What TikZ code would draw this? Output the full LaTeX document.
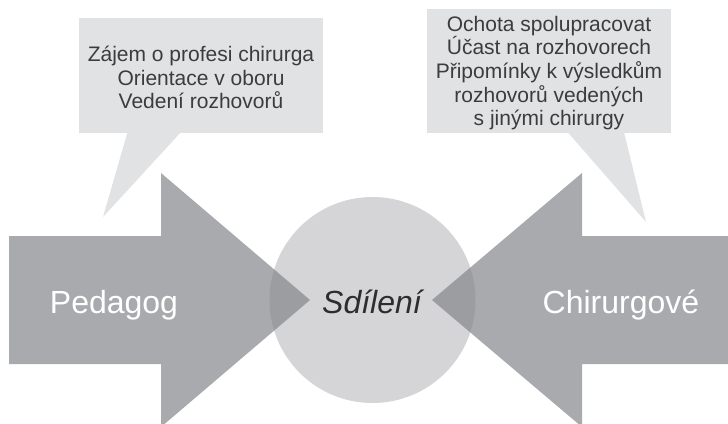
\documentclass[tikz,border=0pt]{standalone}
\usepackage{fontspec}
\setmainfont{Liberation Sans}
\usetikzlibrary{calc}
\definecolor{circlegray}{RGB}{213,213,215}
\definecolor{calloutgray}{RGB}{225,226,227}
\definecolor{arrowgray}{RGB}{130,132,136}
\definecolor{textgray}{RGB}{60,60,60}
\definecolor{hubtext}{RGB}{45,45,45}
\begin{document}
\begin{tikzpicture}[x=1pt,y=-1pt,
  arrowshape/.style={fill=arrowgray, fill opacity=0.69},
  hub/.style={circle, fill=circlegray, minimum size=206pt, inner sep=0pt},
  calloutbox/.style={fill=calloutgray, inner sep=0pt, minimum width=244pt},
  callouttext/.style={text=textgray, align=center,
    font=\fontsize{21}{23.6}\selectfont, inner sep=0pt},
  tail/.style={fill=calloutgray},
  biglabel/.style={font=\fontsize{32}{38}\selectfont, anchor=base}]
\useasboundingbox (0,0) rectangle (728,423);
% central circle
\node[hub] (share) at (372.5,300) {};
% arrows
\fill[arrowshape] (9,236) -- (161,236) -- (161,173) -- (310,300) -- (161,427)
  -- (161,364) -- (9,364) -- cycle;
\fill[arrowshape] (728,236) -- (582,236) -- (582,173) -- (432,300) -- (582,427)
  -- (582,364) -- (728,364) -- cycle;
% labels
\node[biglabel, text=white] (ped) at (114,313) {Pedagog};
\node[biglabel, text=white] (chir) at (621,313) {Chirurgové};
\node[biglabel, text=hubtext, font=\fontsize{32}{38}\selectfont\itshape] (sdil) at (372,313) {Sdílení};
% callouts
\node[calloutbox, minimum height=115pt] (lbox) at (201,75.5) {};
\coordinate (ltip) at (103,217);
\fill[tail] ($(lbox.south west)+(49,-2)$) -- (ltip) -- ($(lbox.south west)+(103,-2)$) -- cycle;
\node[callouttext] (ltext) at ($(lbox.center)+(0,2)$)
  {Zájem o profesi chirurga\\Orientace v oboru\\Vedení rozhovorů};
\node[calloutbox, minimum height=124pt] (rbox) at (549,71) {};
\coordinate (rtip) at (646,222);
\fill[tail] ($(rbox.south west)+(140,-2)$) -- (rtip) -- ($(rbox.south west)+(197,-2)$) -- cycle;
\node[callouttext] (rtext) at ($(rbox.center)+(0,2)$)
  {Ochota spolupracovat\\Účast na rozhovorech\\Připomínky k výsledkům\\rozhovorů vedených\\s jinými chirurgy};
\end{tikzpicture}
\end{document}
